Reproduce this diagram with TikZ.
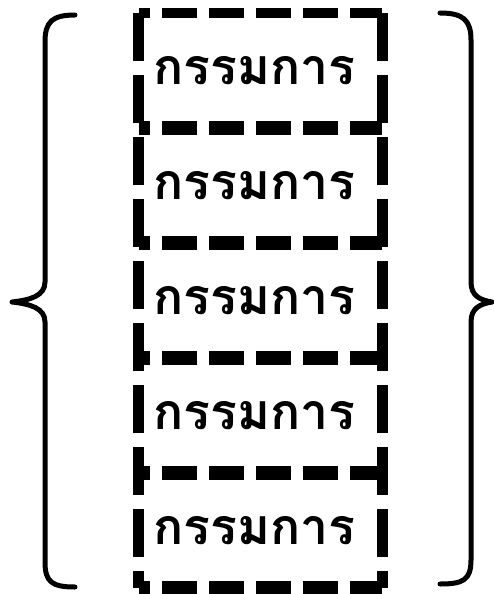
\documentclass[tikz,border=0pt]{standalone}
\usepackage{fontspec}
\newfontfamily\thaifont[Script=Thai]{Loma}
\usetikzlibrary{positioning}

\tikzset{
  member/.style={font=\thaifont\bfseries\fontsize{50}{50}\selectfont, minimum width=243pt, minimum height=115pt, inner sep=0pt},
  sideline/.style={line width=11pt, dash pattern=on 48pt off 14pt},
  divider/.style={line width=14pt, dash pattern=on 35pt off 12pt, dash phase=24pt},
  topline/.style={line width=10pt, dash pattern=on 35pt off 12pt, dash phase=24pt},
  bracket/.style={line width=5pt, line cap=round, line join=round}
}

\begin{document}
\begin{tikzpicture}[x=1pt,y=-1pt]
\useasboundingbox (0,0) rectangle (494,594);

% five members in a column
\foreach \i in {1,...,5}
  \node[member] (m\i) at (260.5,13+115*\i-57.5) {\raisebox{-4pt}{\hspace*{-12pt}กรรมการ}};

% dashed frame
\draw[topline] (m1.north west) -- (m1.north east);
\draw[sideline] (m1.north west) -- (m5.south west);
\draw[sideline] (m1.north east) -- (m5.south east);
\foreach \i in {1,...,5}
  \draw[divider] (m\i.south west) -- (m\i.south east);

% braces
\draw[bracket] (75,15) .. controls (52,15) and (45,22) .. (45,42) -- (45,282)
  .. controls (45,296) and (30,300) .. (12,302) .. controls (30,304) and (45,308) .. (45,322)
  -- (45,562) .. controls (45,582) and (52,587) .. (75,587);
\draw[bracket] (440,13) .. controls (463,13) and (471,20) .. (471,40) -- (471,282)
  .. controls (471,296) and (480,300) .. (492,302) .. controls (480,304) and (471,308) .. (471,322)
  -- (471,560) .. controls (471,580) and (463,584) .. (440,584);
\end{tikzpicture}
\end{document}
